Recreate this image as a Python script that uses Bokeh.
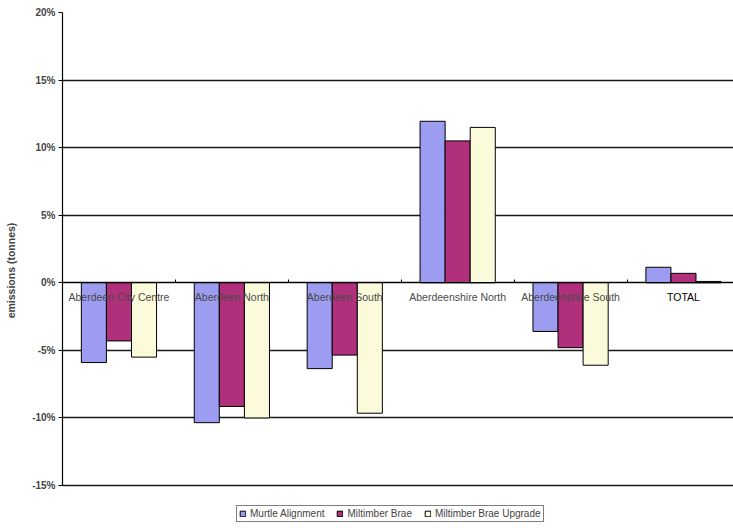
import numpy as np
from bokeh.plotting import figure
from bokeh.models import (ColumnDataSource, Range1d, LinearAxis, FixedTicker,
                          PrintfTickFormatter, Legend, LegendItem, Grid)
from bokeh.core.properties import value
from bokeh.embed import file_html
from bokeh.resources import INLINE

# Change in emissions (%) per area for each route option
areas = ["Aberdeen City Centre", "Aberdeen North", "Aberdeen South",
         "Aberdeenshire North", "Aberdeenshire South", "TOTAL"]
murtle = [-5.9, -10.35, -6.35, 11.95, -3.6, 1.15]
miltimber = [-4.3, -9.15, -5.35, 10.5, -4.8, 0.7]
upgrade = [-5.5, -10.0, -9.65, 11.5, -6.1, 0.1]
series = ["Murtle Alignment", "Miltimber Brae", "Miltimber Brae Upgrade"]
colors = ["#9c9cf0", "#b0307c", "#fbfbdc"]
y_ticks = [-15, -10, -5, 0, 5, 10, 15, 20]

FONT = "Liberation Sans"
BAR_W = 0.222

centers = np.arange(len(areas)) + 0.5
boundaries = list(range(1, len(areas)))

# the frame runs on below -15% so the legend can sit under the chart
p = figure(width=733, height=528, output_backend="svg", toolbar_location=None,
           x_range=Range1d(0, 5.943), y_range=Range1d(-18.18, 20),
           min_border_left=62, min_border_right=0, min_border_top=12,
           min_border_bottom=0, x_axis_type=None, y_axis_type=None)
p.outline_line_color = None
p.background_fill_color = "white"
p.border_fill_color = "white"

# value axis
yaxis = LinearAxis(ticker=FixedTicker(ticks=y_ticks),
                   formatter=PrintfTickFormatter(format="%d%%"),
                   axis_label="emissions (tonnes)", bounds=(-15, 20))
yaxis.axis_line_color = "black"
yaxis.axis_line_width = 1.2
yaxis.major_tick_out = 4
yaxis.major_tick_in = 0
yaxis.minor_tick_line_color = None
yaxis.major_label_text_font = FONT
yaxis.major_label_text_font_size = "10px"
yaxis.major_label_text_font_style = "bold"
yaxis.major_label_standoff = 3
yaxis.axis_label_text_font = FONT
yaxis.axis_label_text_font_size = "10.5px"
yaxis.axis_label_text_font_style = "bold"
yaxis.axis_label_standoff = 12
p.add_layout(yaxis, "left")

# horizontal gridlines
grid = Grid(dimension=1, ticker=FixedTicker(ticks=y_ticks))
grid.grid_line_color = "black"
grid.grid_line_width = 1.3
grid.grid_line_alpha = 0.9
p.add_layout(grid)

# category axis sitting on the zero line, ticks between groups
xaxis = LinearAxis(fixed_location=0, ticker=FixedTicker(ticks=boundaries),
                   major_label_overrides={b: "" for b in boundaries})
xaxis.axis_line_color = "black"
xaxis.major_tick_in = 3
xaxis.major_tick_out = 0
xaxis.minor_tick_line_color = None
xaxis.major_label_standoff = 0
p.add_layout(xaxis, "below")

renderers = []
for k, (name, vals, col) in enumerate(zip(series, [murtle, miltimber, upgrade], colors)):
    src = ColumnDataSource(dict(x=centers + (k - 1) * BAR_W, top=vals))
    r = p.vbar(x="x", top="top", bottom=0, width=BAR_W, source=src,
               fill_color=col, line_color="black", line_width=1)
    renderers.append(r)

# area names drawn just under the zero line, over the bars
lab_src = ColumnDataSource(dict(
    x=centers, y=[-1.05] * len(areas), text=areas,
    color=["#4a4a4a"] * (len(areas) - 1) + ["black"]))
p.text(x="x", y="y", text="text", source=lab_src, text_color="color",
       text_font=value(FONT), text_font_size="10.5px",
       text_align="center", text_baseline="middle")

legend = Legend(items=[LegendItem(label=n, renderers=[r]) for n, r in zip(series, renderers)],
                orientation="horizontal", location=(174, 6))
legend.margin = 0
legend.padding = 2
legend.spacing = 12
legend.glyph_width = 7
legend.glyph_height = 7
legend.label_standoff = 4
legend.label_height = 9
legend.label_text_font = FONT
legend.label_text_font_size = "10px"
legend.label_text_baseline = "middle"
legend.border_line_color = "black"
legend.border_line_width = 1
legend.background_fill_color = "white"
p.add_layout(legend, "center")

open("out.html", "w").write(file_html(p, INLINE))
